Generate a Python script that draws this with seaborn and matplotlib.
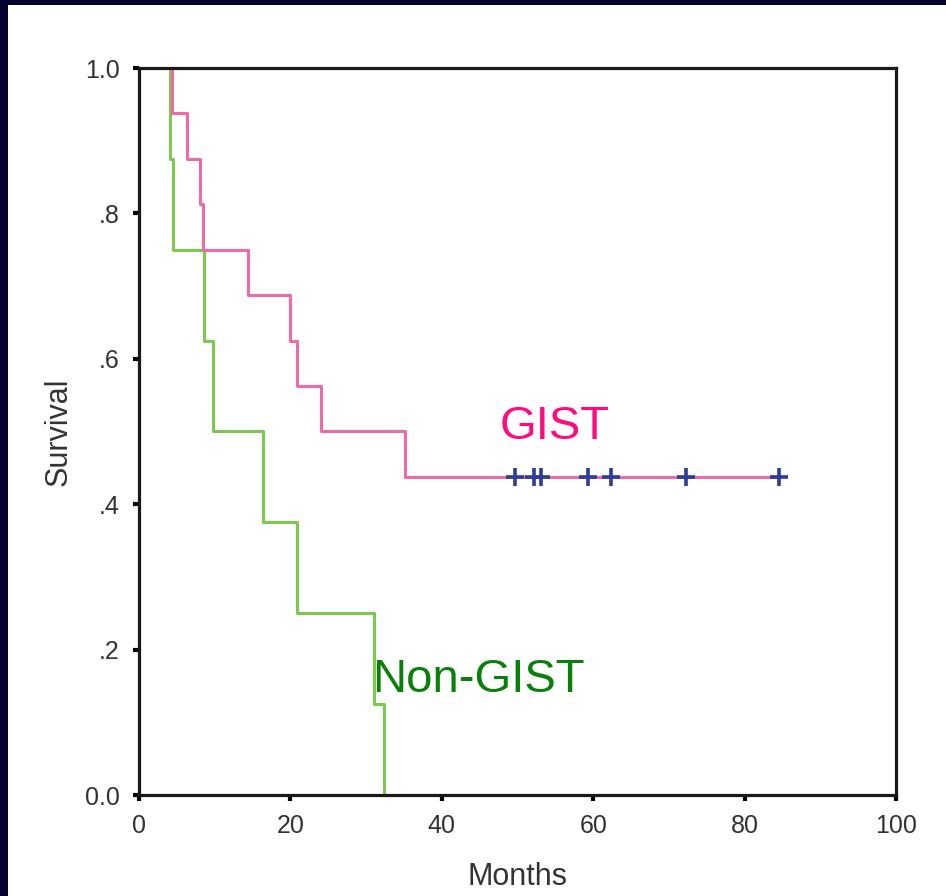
import matplotlib
matplotlib.use('Agg')
import matplotlib.pyplot as plt
import seaborn as sns
import pandas as pd
from matplotlib.patches import Rectangle

# Kaplan-Meier steps (months, survival after the step)
gist_months = [0, 4.4, 6.4, 8.1, 8.4, 14.4, 19.9, 20.9, 24.1, 35.1, 84.6]
gist_surv = [1.0, 0.9375, 0.875, 0.8125, 0.75, 0.6875, 0.625, 0.5625, 0.5, 0.4375, 0.4375]
gist_censored = [49.7, 52.2, 53.1, 59.3, 62.3, 72.2, 84.6]

nongist_months = [0, 4.1, 4.5, 8.6, 9.8, 16.4, 20.9, 31.0, 32.4]
nongist_surv = [1.0, 0.875, 0.75, 0.625, 0.5, 0.375, 0.25, 0.125, 0.0]

x_ticks = [0, 20, 40, 60, 80, 100]
y_ticks = [0.0, 0.2, 0.4, 0.6, 0.8, 1.0]
y_ticklabels = ['0.0', '.2', '.4', '.6', '.8', '1.0']

sns.set_style('ticks')
plt.rcParams['font.family'] = ['Liberation Sans', 'DejaVu Sans']

fig = plt.figure(figsize=(9.46, 8.96), dpi=100, facecolor='#04042e')
# white slide panel inside the dark border, kept behind the axes
panel = Rectangle((8 / 946, 0), 1, 1 - 5 / 896, transform=fig.transFigure,
                  facecolor='white', edgecolor='none', zorder=-10)
fig.patches.append(panel)

ax = fig.add_axes([139 / 946, 101 / 896, 757 / 946, 727 / 896])
ax.set_facecolor('white')

gist = pd.DataFrame({'Months': gist_months, 'Survival': gist_surv})
nongist = pd.DataFrame({'Months': nongist_months, 'Survival': nongist_surv})
cens = pd.DataFrame({'Months': gist_censored, 'Survival': [gist_surv[-1]] * len(gist_censored)})

# lines sit under the spines so the 1.0 start is hidden by the frame
sns.lineplot(data=nongist, x='Months', y='Survival', ax=ax, estimator=None, sort=False,
             drawstyle='steps-post', color='#7cc94e', linewidth=2.2, zorder=2)
sns.lineplot(data=gist, x='Months', y='Survival', ax=ax, estimator=None, sort=False,
             drawstyle='steps-post', color='#ee6ba8', linewidth=2.2, zorder=2.1)
sns.scatterplot(data=cens, x='Months', y='Survival', ax=ax, marker='+', s=160,
                linewidth=2.6, color='#2c3d94', zorder=5)

ax.text(47.7, 0.49, 'GIST', color='#ff0a80', fontsize=34, ha='left', va='baseline')
ax.text(30.8, 0.142, 'Non-GIST', color='#0a800a', fontsize=34, ha='left', va='baseline')

ax.set_xlim(0, 100)
ax.set_ylim(0, 1.0)
ax.set_xticks(x_ticks)
ax.set_yticks(y_ticks)
ax.set_yticklabels(y_ticklabels)
ax.tick_params(axis='both', direction='out', length=4, width=3, color='black',
               labelsize=18, labelcolor='#333333', pad=10)

for s in ax.spines.values():
    s.set_visible(True)
    s.set_color('#1a1a1a')
    s.set_linewidth(2.3)

ax.set_xlabel('Months', fontsize=22, color='#333333', labelpad=17)
ax.set_ylabel('Survival', fontsize=22, color='#333333', labelpad=8)

plt.savefig('out.png', dpi=100, facecolor=fig.get_facecolor())
